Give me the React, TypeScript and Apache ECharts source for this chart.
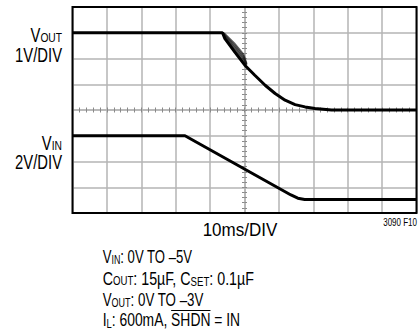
import React, { useEffect, useRef } from 'react';
import * as echarts from 'echarts';

// ---- data (ms, volts) ----
const voutTime = [0, 43.6, 44.3, 47.2, 50.1, 53.0, 56.0, 58.9, 61.8, 64.7, 67.6, 70.5, 75.3, 80, 100];
const voutVolts = [0, 0, -0.23, -0.75, -1.26, -1.65, -2.04, -2.36, -2.62, -2.79, -2.88, -2.94, -3.0, -3.0, -3.0];
const vinTime = [0, 32.7, 63.5, 65.5, 67.5, 100];
const vinVolts = [0, 0, -4.6, -4.85, -4.95, -4.95];
const ringTime = [43.6, 44.2, 47.0, 49.7, 50.6];
const ringA = [0, -0.03, -0.4, -0.84, -1.2];
const ringB = [0, -0.07, -0.48, -0.92, -1.22];
const ringC = [0, -0.11, -0.56, -0.99, -1.24];
const ringD = [0, -0.15, -0.64, -1.06, -1.26];

const timeMin = 0, timeMax = 100, timeDiv = 10;
const voutMin = -7, voutMax = 1, voutDiv = 1;
const vinMin = -6, vinMax = 10, vinDiv = 2;

const xLabel = '10ms/DIV';
const figId = '3090 F10';

const G = { left: 72.5, top: 7, width: 344, height: 206 };
const FONT = '"Liberation Sans", Arial, sans-serif';
const GRID_C = '#b5b5b5';
const TICK_C = '#8a8a8a';

function pairs(t: number[], v: number[]) {
  return t.map((x, i) => [x, v[i]]);
}

function tw(s: string, size: number) {
  const c = document.createElement('canvas').getContext('2d')!;
  c.font = `${size}px "Liberation Sans"`;
  return c.measureText(s).width;
}

export default function App() {
  const ref = useRef<HTMLDivElement>(null);
  useEffect(() => {
    const chart = echarts.init(ref.current!, null, { renderer: 'svg' });
    const FS = 18.5, SUB = 12.5;
    const LFS = 19.5, LSUB = 13.5, LSX = 0.76;
    const rich = (fs: number, sub: number) => ({
      m: { fontSize: fs, fontFamily: FONT, fill: '#000' },
      c: { fontSize: sub, fontFamily: FONT, fill: '#000', padding: [5, 0, 0, 0] },
      s: { fontSize: sub, fontFamily: FONT, fill: '#000', padding: [7, 0, 0, 0] },
    });
    const txt = (text: string, x: number, y: number, align: string, fs: number, sub: number, sx: number) => ({
      type: 'text', x, y, scaleX: sx, z: 50, silent: true,
      style: {
        text, rich: rich(fs, sub), fontSize: fs, fontFamily: FONT, fill: '#000',
        align, textAlign: align, verticalAlign: 'middle', textVerticalAlign: 'middle',
      },
    });
    const bx = 102.7;
    const lineY = [256, 278, 299.5, 319.5];
    const lineSX = [0.71, 0.77, 0.72, 0.75];
    const pre4 = tw('I', FS) + tw('L', SUB) + tw(': 600mA, ', FS);
    const shdnW = tw('SHDN', FS);

    const minorAxisX = (position: string, line: boolean) => ({
      type: 'value', min: timeMin, max: timeMax, interval: timeDiv, position, offset: -G.height / 2,
      axisLine: { show: line, onZero: false, lineStyle: { color: GRID_C, width: 1.5 } },
      axisTick: { show: true, length: 2.5, lineStyle: { color: TICK_C, width: 1 } },
      minorTick: { show: true, splitNumber: 5, length: 2.5, lineStyle: { color: TICK_C, width: 1 } },
      axisLabel: { show: false }, splitLine: { show: false },
    });
    const minorAxisY = (position: string, line: boolean) => ({
      type: 'value', min: voutMin, max: voutMax, interval: voutDiv, position, offset: -G.width / 2,
      axisLine: { show: line, onZero: false, lineStyle: { color: GRID_C, width: 1.5 } },
      axisTick: { show: true, length: 2.5, lineStyle: { color: TICK_C, width: 1 } },
      minorTick: { show: true, splitNumber: 5, length: 2.5, lineStyle: { color: TICK_C, width: 1 } },
      axisLabel: { show: false }, splitLine: { show: false },
    });
    const ring = (vals: number[]) => ({
      type: 'line', xAxisIndex: 0, yAxisIndex: 0, data: pairs(ringTime, vals), symbol: 'none',
      lineStyle: { color: '#1a1a1a', width: 1.8, opacity: 0.7 }, z: 4, silent: true,
    });

    chart.setOption({
      animation: false,
      backgroundColor: '#fff',
      grid: { left: G.left, top: G.top, width: G.width, height: G.height, show: false },
      xAxis: [
        {
          type: 'value', min: timeMin, max: timeMax, interval: timeDiv, position: 'bottom',
          axisLine: { show: false, onZero: false }, axisTick: { show: false }, axisLabel: { show: false },
          splitLine: { show: true, lineStyle: { color: GRID_C, width: 1.5 } },
        },
        minorAxisX('bottom', true),
        minorAxisX('top', false),
      ],
      yAxis: [
        {
          type: 'value', min: voutMin, max: voutMax, interval: voutDiv, position: 'left',
          axisLine: { show: false, onZero: false }, axisTick: { show: false }, axisLabel: { show: false },
          splitLine: { show: true, lineStyle: { color: GRID_C, width: 1.5 } },
        },
        {
          type: 'value', min: vinMin, max: vinMax, interval: vinDiv, position: 'right', show: false,
          axisLine: { onZero: false }, splitLine: { show: false },
        },
        minorAxisY('left', true),
        minorAxisY('right', false),
      ],
      series: [
        ring(ringA), ring(ringB), ring(ringC), ring(ringD),
        {
          name: 'VOUT', type: 'line', xAxisIndex: 0, yAxisIndex: 0, data: pairs(voutTime, voutVolts),
          symbol: 'none', lineStyle: { color: '#000', width: 3 }, z: 5,
        },
        {
          name: 'VIN', type: 'line', xAxisIndex: 0, yAxisIndex: 1, data: pairs(vinTime, vinVolts),
          symbol: 'none', lineStyle: { color: '#000', width: 3 }, z: 5,
        },
      ],
      graphic: [
        {
          type: 'rect', z: 100, silent: true,
          shape: { x: G.left, y: G.top, width: G.width, height: G.height },
          style: { fill: 'none', stroke: '#000', lineWidth: 2 },
        },
        txt('{m|V}{c|OUT}', 62, 35, 'right', LFS, LSUB, LSX),
        txt('{m|1V/DIV}', 62, 55.5, 'right', LFS, LSUB, LSX),
        txt('{m|V}{c|IN}', 62, 143, 'right', LFS, LSUB, LSX),
        txt('{m|2V/DIV}', 62, 162, 'right', LFS, LSUB, LSX),
        txt(`{m|${xLabel}}`, 240, 230, 'center', 18.5, SUB, 0.92),
        txt(`{m|${figId}}`, 417, 222.5, 'right', 10, 8, 0.8),
        txt('{m|V}{s|IN}{m|: 0V TO –5V}', bx, lineY[0], 'left', FS, SUB, lineSX[0]),
        txt('{m|C}{c|OUT}{m|: 15µF, C}{s|SET}{m|: 0.1µF}', bx, lineY[1], 'left', FS, SUB, lineSX[1]),
        txt('{m|V}{c|OUT}{m|: 0V TO –3V}', bx, lineY[2], 'left', FS, SUB, lineSX[2]),
        txt('{m|I}{s|L}{m|: 600mA, SHDN = IN}', bx, lineY[3], 'left', FS, SUB, lineSX[3]),
        {
          type: 'line', z: 50, silent: true,
          shape: {
            x1: bx + pre4 * lineSX[3], y1: lineY[3] - 9,
            x2: bx + (pre4 + shdnW) * lineSX[3], y2: lineY[3] - 9,
          },
          style: { stroke: '#000', lineWidth: 1.2 },
        },
      ],
    });
    return () => chart.dispose();
  }, []);
  return (
    <div
      ref={ref}
      style={{ position: 'absolute', left: 0, top: 0, width: 420, height: 330, background: '#fff' }}
    />
  );
}
